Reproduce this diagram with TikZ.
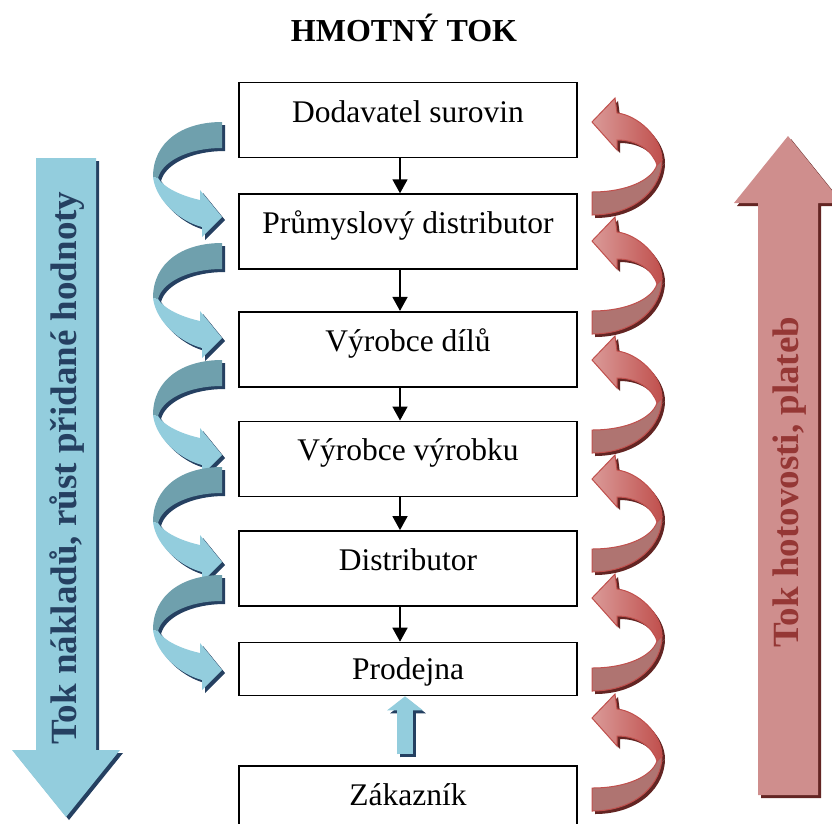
\documentclass[tikz,border=0pt]{standalone}
\usepackage{fontspec}
\setmainfont{Liberation Serif}
\usetikzlibrary{arrows.meta,positioning}

\definecolor{bluelight}{HTML}{93CDDD}
\definecolor{blueback}{HTML}{6FA0AD}
\definecolor{bluedark}{HTML}{254061}
\definecolor{redlight}{HTML}{DA9A98}
\definecolor{redmain}{HTML}{C0504D}
\definecolor{redback}{HTML}{AF7471}
\definecolor{redbig}{HTML}{CF8E8D}
\definecolor{reddark}{HTML}{632523}
\definecolor{redtext}{HTML}{953735}

\newcommand{\boxfont}{\fontsize{31.5}{36}\selectfont}
\newcommand{\titlefont}{\fontsize{32}{36}\selectfont\bfseries}
\newcommand{\sidefont}{\fontsize{37}{42}\selectfont\bfseries}

\begin{document}
\begin{tikzpicture}[x=1pt,y=-1pt,
box/.style={draw,line width=1.6pt,minimum width=338pt,minimum height=75pt,
  text height=24pt,text depth=20pt,inner sep=0pt,font=\boxfont},
short box/.style={box,minimum height=53pt,text height=21pt,text depth=0pt},
flow/.style={-{Triangle[width=15pt,length=14pt]},line width=1.6pt},
bback/.style={insert path={(0,0) .. controls (-40,0) and (-69,20) .. (-69,55)
  -- (-64,56) .. controls (-60,40) and (-35,26) .. (0,26) -- cycle}},
bfront/.style={insert path={(-69,55) .. controls (-66,80) and (-40,100) .. (-20,105)
  -- (-20,115) -- (0,95) -- (-22,68) -- (-22,78)
  .. controls (-40,74) and (-58,66) .. (-64,56) -- cycle}},
rfront/.style={insert path={(0,0) -- (23,-24) -- (25,-9)
  .. controls (45,-7) and (70,15) .. (70,38) -- (65,43)
  .. controls (60,28) and (45,18) .. (25,18) -- (25,28) -- cycle}},
rback/.style={insert path={(70,38) .. controls (70,65) and (45,93) .. (0,93)
  -- (0,70) .. controls (35,70) and (60,58) .. (65,43) -- cycle}},
bluecurl/.pic={
  \fill[bluedark,shift={(3,3)},bback];
  \fill[bluedark,shift={(3,3)},bfront];
  \fill[blueback,bback];
  \fill[bluelight,bfront];
},
redcurl/.pic={
  \fill[reddark,shift={(3,3)},rback];
  \fill[reddark,shift={(3,3)},rfront];
  \filldraw[fill=redback,draw=redmain,line width=1pt,rback];
  \path[left color=redlight,right color=redmain,draw=redmain,line width=1pt,rfront];
}]

\useasboundingbox (0,0) rectangle (832,823);

% big side arrows
\fill[bluedark,shift={(3,3)}] (36,158) -- (96,158) -- (96,750) -- (120,750)
  -- (66,817) -- (12,750) -- (36,750) -- cycle;
\fill[bluelight] (36,158) -- (96,158) -- (96,750) -- (120,750)
  -- (66,817) -- (12,750) -- (36,750) -- cycle;
\fill[reddark,shift={(3,3)}] (758,795) -- (818,795) -- (818,203) -- (842,203)
  -- (788,136) -- (734,203) -- (758,203) -- cycle;
\fill[redbig] (758,795) -- (818,795) -- (818,203) -- (842,203)
  -- (788,136) -- (734,203) -- (758,203) -- cycle;

\node[rotate=90,font=\sidefont,text=bluedark] (costs) at (67,468)
  {Tok nákladů, růst přidané hodnoty};
\node[rotate=90,font=\sidefont,text=redtext] (cash) at (790,482)
  {Tok hotovosti, plateb};

% curls
\foreach \y in {122,243,360,467,575}
  \pic at (222,\y) {bluecurl};
\foreach \y in {122,241,360,479,598,718}
  \pic at (592,\y) {redcurl};

\node[font=\titlefont] (title) at (404,28) {HMOTNÝ TOK};

\node[box] (sup) at (408,120) {Dodavatel surovin};
\node[box,below=35pt of sup] (ind) {Průmyslový distributor};
\node[box,below=41pt of ind] (parts) {Výrobce dílů};
\node[box,below=33pt of parts] (maker) {Výrobce výrobku};
\node[box,below=33pt of maker] (dist) {Distributor};
\node[short box,below=35pt of dist] (shop) {Prodejna};
\node[box,below=69pt of shop] (cust) {Zákazník};

\foreach \a/\b in {sup/ind,ind/parts,parts/maker,maker/dist,dist/shop}
  \draw[flow] ([xshift=-8pt]\a.south) -- ([xshift=-8pt]\b.north);

\draw[bluedark,line width=16pt,-{Triangle[width=35pt,length=14pt]},shorten <=11pt,
  transform canvas={xshift=3pt,yshift=-3pt}] ([xshift=-3pt]cust.north) -- ([xshift=-3pt]shop.south);
\draw[bluelight,line width=16pt,-{Triangle[width=35pt,length=14pt]},shorten <=11pt]
  ([xshift=-3pt]cust.north) -- ([xshift=-3pt]shop.south);
\end{tikzpicture}
\end{document}
